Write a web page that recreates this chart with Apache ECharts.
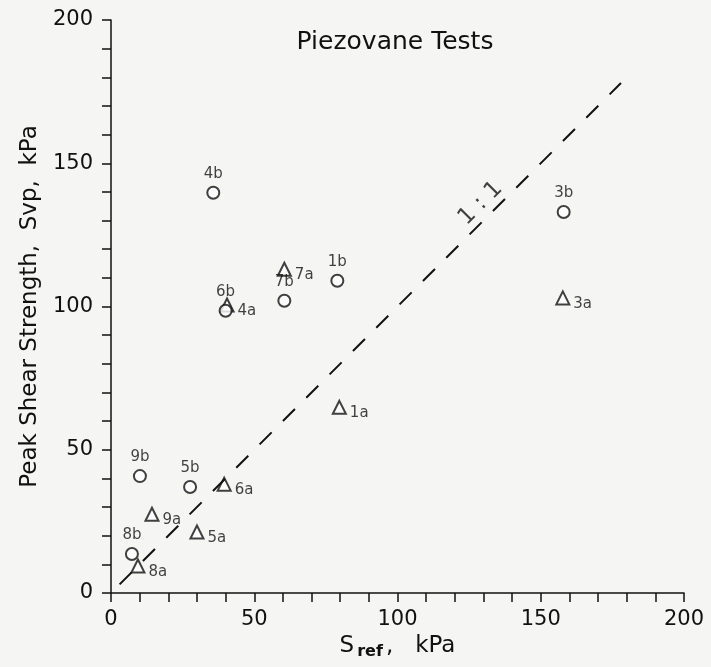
<!DOCTYPE html>
<html>
<head>
<meta charset="utf-8">
<script src="https://cdn.jsdelivr.net/npm/echarts@6/dist/echarts.min.js"></script>
<style>
  html, body { margin: 0; padding: 0; background: #f5f5f3; }
  #chart { width: 711px; height: 667px; }
</style>
</head>
<body>
<div id="chart"></div>
<script>
// triangles = "a" tests, circles = "b" tests
const aNames = ['1a', '3a', '4a', '5a', '6a', '7a', '8a', '9a']
const aX = [79.7, 157.7, 40.5, 30, 39.5, 60.5, 9.4, 14.3]
const aY = [64.8, 103, 100.5, 21.3, 38, 113, 9.4, 27.5]

const bNames = ['1b', '3b', '4b', '5b', '6b', '7b', '8b', '9b']
const bX = [79, 158, 35.7, 27.6, 40, 60.5, 7.3, 10.1]
const bY = [109, 133, 139.7, 37, 98.5, 102, 13.6, 40.8]

// 1:1 reference line ends, and where its label sits
const oneToOne = [[3, 3], [178, 178]]
const ratioLabel = [[129, 136]]
const ratioText = '1 : 1'

const ink = '#111111'
const font = 'DejaVu Sans'

const chart = echarts.init(document.getElementById('chart'))

const axisCommon = {
  min: 0,
  max: 200,
  interval: 10,
  splitLine: { show: false },
  axisLine: { lineStyle: { color: ink, width: 1.5 } },
  axisTick: { length: 9, lineStyle: { color: ink, width: 1.5 } },
  axisLabel: {
    color: ink,
    fontFamily: font,
    fontSize: 21,
    formatter: v => (v % 50 === 0 ? v : '')
  },
  nameLocation: 'middle',
  nameTextStyle: { color: ink, fontFamily: font, fontSize: 23 }
}

chart.setOption({
  backgroundColor: '#f5f5f3',
  animation: false,
  title: {
    text: 'Piezovane Tests',
    left: 390,
    textAlign: 'center',
    top: 25,
    textStyle: { color: ink, fontFamily: font, fontWeight: 'normal', fontSize: 25 }
  },
  grid: { left: 111, right: 27, top: 20, bottom: 74 },
  xAxis: Object.assign({}, axisCommon, {
    name: '{s|S}{sub|ref}{s|,   kPa}',
    nameGap: 41,
    nameTextStyle: {
      color: ink,
      fontFamily: font,
      rich: {
        s: { fontFamily: font, fontSize: 23, color: ink, lineHeight: 28, verticalAlign: 'top' },
        sub: { fontFamily: font, fontSize: 16, fontWeight: 'bold', color: ink, lineHeight: 28, padding: [9, 3, 0, 3], verticalAlign: 'top' }
      }
    },
    axisLabel: Object.assign({}, axisCommon.axisLabel, { margin: 16 })
  }),
  yAxis: Object.assign({}, axisCommon, {
    name: 'Peak Shear Strength,  Svp,  kPa',
    nameGap: 68,
    axisLabel: Object.assign({}, axisCommon.axisLabel, { margin: 18 })
  }),
  series: [
    {
      type: 'line',
      data: oneToOne,
      symbol: 'none',
      silent: true,
      lineStyle: { color: ink, width: 2, type: [17, 16] }
    },
    {
      type: 'scatter',
      data: ratioLabel,
      symbolSize: 0,
      silent: true,
      label: {
        show: true,
        position: 'inside',
        rotate: 45,
        formatter: ratioText,
        color: ink,
        fontFamily: font,
        fontSize: 23
      }
    },
    {
      type: 'scatter',
      data: aX.map((x, i) => ({ name: aNames[i], value: [x, aY[i]] })),
      symbol: 'emptyTriangle',
      symbolSize: 13,
      itemStyle: { color: ink, borderColor: ink, borderWidth: 1.8 },
      label: {
        show: true,
        position: 'right',
        distance: 3,
        offset: [0, 6],
        formatter: p => p.name,
        color: ink,
        fontFamily: font,
        fontSize: 15
      }
    },
    {
      type: 'scatter',
      data: bX.map((x, i) => ({ name: bNames[i], value: [x, bY[i]] })),
      symbol: 'emptyCircle',
      symbolSize: 12,
      itemStyle: { color: ink, borderColor: ink, borderWidth: 1.8 },
      label: {
        show: true,
        position: 'top',
        distance: 4,
        formatter: p => p.name,
        color: ink,
        fontFamily: font,
        fontSize: 15
      }
    }
  ]
})
</script>
</body>
</html>
